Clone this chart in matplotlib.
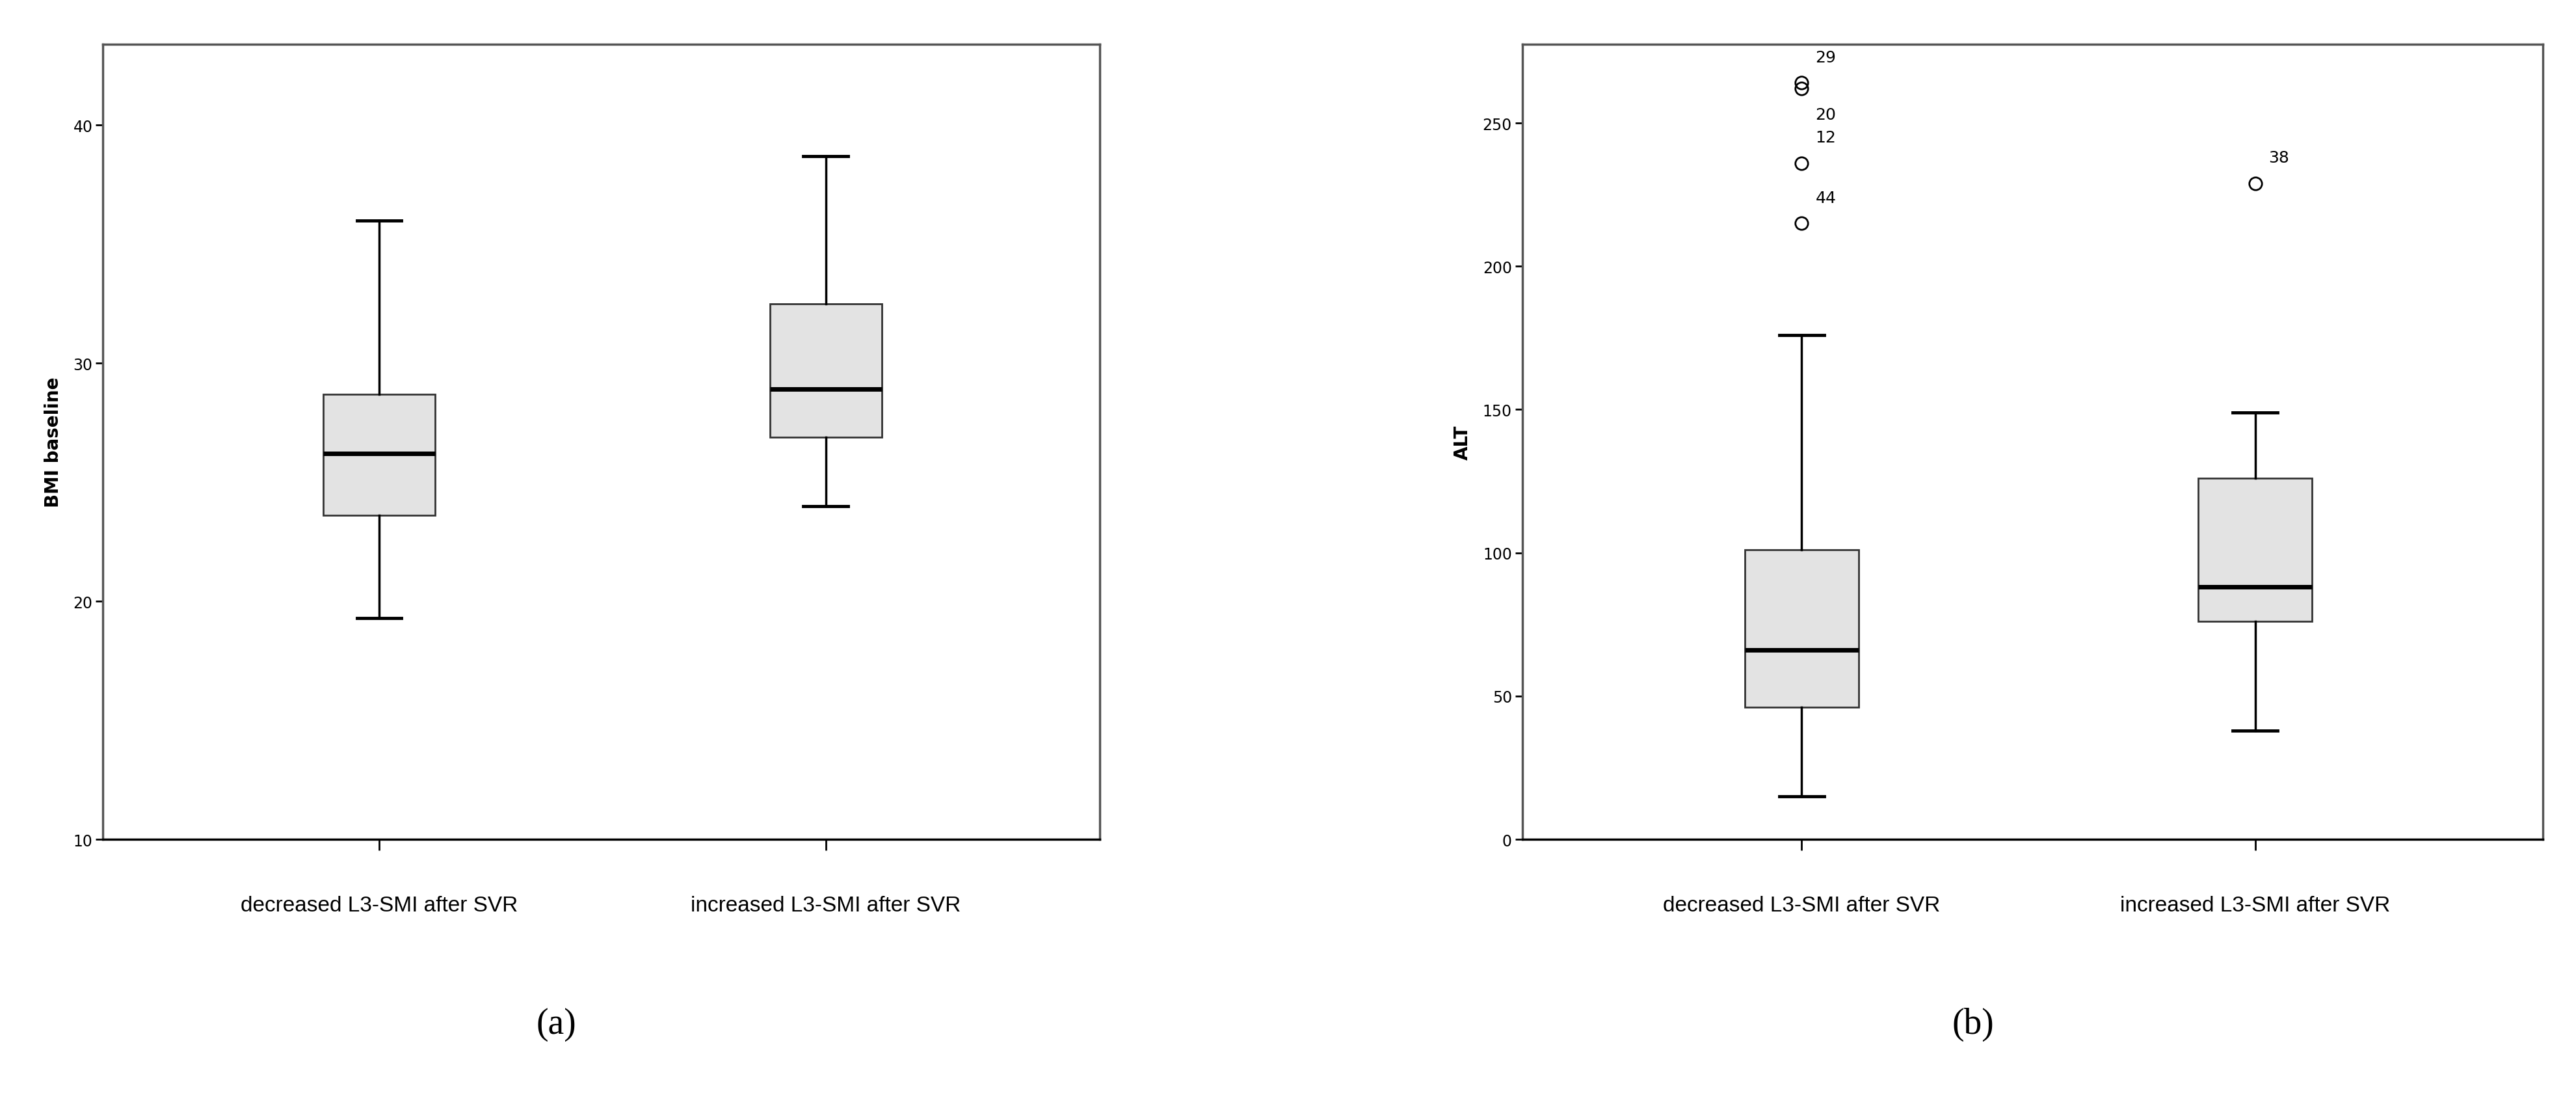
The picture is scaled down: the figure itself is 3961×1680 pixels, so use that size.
import matplotlib
matplotlib.use("Agg")
import matplotlib.pyplot as plt

categories = ["decreased L3-SMI after SVR", "increased L3-SMI after SVR"]
# BMI baseline: whislo, q1, med, q3, whishi
bmi_stats = [(19.3, 23.6, 26.2, 28.7, 36.0), (24.0, 26.9, 28.9, 32.5, 38.7)]
alt_stats = [(15, 46, 66, 101, 176), (38, 76, 88, 126, 149)]
alt_outliers = [[215, 236, 262, 264], [229]]
alt_outlier_ids = [["44", "12", "20", "29"], ["38"]]

fig = plt.figure(figsize=(39.61, 16.81), dpi=100)
ax1 = fig.add_axes([0.040, 0.232, 0.387, 0.727])
ax2 = fig.add_axes([0.591, 0.232, 0.396, 0.727])

def draw(ax, stats, outs, ylabel, ylim, yticks, xlim):
    bxp = []
    for i, s in enumerate(stats):
        bxp.append(dict(whislo=s[0], q1=s[1], med=s[2], q3=s[3], whishi=s[4],
                        fliers=outs[i] if outs else []))
    ax.bxp(bxp, positions=[1, 2], widths=0.25, patch_artist=True,
           boxprops=dict(facecolor="#e3e3e3", edgecolor="#333333", linewidth=2),
           medianprops=dict(color="black", linewidth=5),
           whiskerprops=dict(color="black", linewidth=2.5),
           capprops=dict(color="black", linewidth=3.5),
           capwidths=0.1,
           flierprops=dict(marker="o", markerfacecolor="none", markeredgecolor="black",
                           markersize=14, markeredgewidth=2))
    ax.set_xlim(*xlim)
    ax.set_ylim(*ylim)
    ax.set_yticks(yticks)
    ax.set_xticks([1, 2])
    ax.set_xticklabels(categories, fontsize=24, family="Liberation Sans Narrow" if False else "DejaVu Sans Condensed" if False else "Liberation Sans")
    ax.tick_params(axis="x", length=12, width=2, pad=50, direction="out")
    ax.tick_params(axis="y", labelsize=17, length=8, width=2)
    ax.set_ylabel(ylabel, fontsize=20, fontweight="bold", labelpad=12)
    for sp in ax.spines.values():
        sp.set_linewidth(2.5)
        sp.set_color("#555555")
    ax.spines["bottom"].set_color("black")

draw(ax1, bmi_stats, None, "BMI baseline", (10, 43.4), [10, 20, 30, 40], (0.382, 2.614))
draw(ax2, alt_stats, alt_outliers, "ALT", (0, 277.5), [0, 50, 100, 150, 200, 250], (0.384, 2.634))

offsets = {"29": 9, "20": -9, "12": 9, "44": 9, "38": 9}
for i, (vals, ids) in enumerate(zip(alt_outliers, alt_outlier_ids)):
    for v, lab in zip(vals, ids):
        ax2.text(i + 1 + 0.03, v + offsets[lab], lab, fontsize=18, va="center", ha="left")

fig.text(0.216, 0.055, "(a)", fontsize=40, family="Liberation Serif", ha="center")
fig.text(0.766, 0.055, "(b)", fontsize=40, family="Liberation Serif", ha="center")
fig.savefig("out.png", dpi=100)
